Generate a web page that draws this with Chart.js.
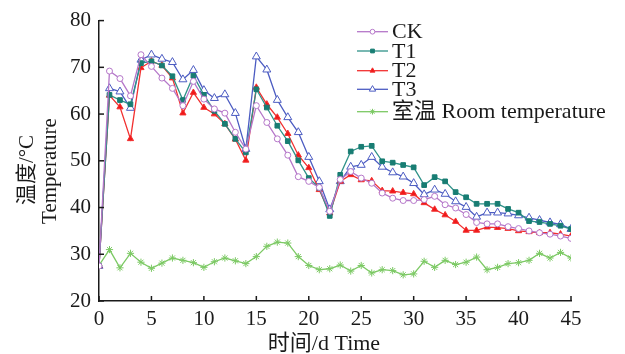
<!DOCTYPE html>
<html>
<head>
<meta charset="utf-8">
<script src="https://cdn.jsdelivr.net/npm/chart.js@4/dist/chart.umd.min.js"></script>
<style>
    html, body { margin: 0; padding: 0; background: #fff; }
    #wrap { width: 625px; height: 354px; }
</style>
</head>
<body>
<div id="wrap"><canvas id="tempChart" width="625" height="354"></canvas></div>
<script>
const days = [0, 1, 2, 3, 4, 5, 6, 7, 8, 9, 10, 11, 12, 13, 14, 15, 16, 17, 18, 19, 20, 21, 22,
    23, 24, 25, 26, 27, 28, 29, 30, 31, 32, 33, 34, 35, 36, 37, 38, 39, 40, 41, 42, 43, 44, 45];

const ck = [27.5, 69.2, 67.6, 63.9, 72.7, 70.2, 67.7, 65.5, 61.8, 67.0, 63.2, 61.1, 60.2, 56.1, 52.5, 61.8,
    58.2, 54.7, 51.2, 46.6, 45.6, 44.3, 39.2, 46.0, 47.7, 46.3, 45.2, 43.1, 42.0, 41.5, 41.5, 41.7,
    42.4, 40.6, 39.9, 38.5, 36.8, 36.5, 36.5, 35.9, 35.5, 35.0, 34.6, 34.3, 33.9, 33.4];
const t1 = [27.5, 64.1, 63.0, 62.1, 70.9, 71.3, 70.4, 68.1, 63.0, 68.2, 64.1, 60.7, 57.9, 54.7, 51.8, 65.3,
    61.4, 57.5, 54.2, 50.1, 46.3, 44.2, 38.2, 47.0, 52.0, 53.0, 53.2, 49.9, 49.6, 49.1, 48.6, 44.8,
    46.5, 45.6, 43.3, 42.2, 40.8, 40.8, 40.8, 39.7, 38.9, 37.1, 36.9, 36.5, 36.1, 35.4];
const t2 = [27.5, 64.0, 61.5, 54.7, 69.9, 71.3, 70.4, 67.7, 60.2, 64.6, 61.4, 60.0, 57.9, 54.6, 50.1, 65.7,
    62.1, 59.3, 55.8, 51.2, 48.5, 43.8, 38.8, 45.6, 47.0, 45.9, 45.7, 43.6, 43.5, 43.2, 42.9, 41.0,
    39.6, 38.4, 37.0, 35.1, 35.1, 35.8, 35.7, 35.5, 35.0, 34.8, 34.6, 34.6, 34.3, 33.9];
const t3 = [27.5, 65.5, 64.8, 61.3, 71.6, 72.7, 71.8, 71.1, 67.4, 69.4, 65.1, 63.4, 64.2, 60.2, 52.5, 72.3,
    69.5, 63.0, 59.3, 56.1, 50.8, 45.6, 39.6, 45.6, 48.7, 49.1, 50.8, 48.7, 47.5, 46.6, 45.2, 42.8,
    43.8, 42.9, 41.3, 40.1, 38.0, 38.9, 38.9, 38.7, 38.3, 37.8, 37.3, 36.8, 36.4, 35.4];
const room = [27.6, 31.0, 27.1, 30.2, 28.3, 27.0, 28.1, 29.2, 28.7, 28.2, 27.2, 28.4, 29.2, 28.6, 28.0, 29.5,
    31.7, 32.6, 32.4, 29.5, 27.6, 26.7, 26.9, 27.7, 26.4, 27.6, 26.0, 26.7, 26.5, 25.6, 25.8, 28.5,
    27.2, 28.7, 27.8, 28.3, 29.4, 26.7, 27.2, 28.0, 28.2, 28.7, 30.2, 29.2, 30.4, 29.2];

const seriesNames = ['CK', 'T1', 'T2', 'T3', '室温 Room temperature'];
const xTicks = [0, 5, 10, 15, 20, 25, 30, 35, 40, 45];
const yTicks = [20, 30, 40, 50, 60, 70, 80];
const xTitle = '时间/d Time';
const yTitle = ['温度/°C', 'Temperature'];

const FONT = '"Liberation Serif", "Noto Sans CJK SC", serif';
const INK = '#1a1a1a';

const toPoints = vals => days.map((d, i) => ({ x: d, y: vals[i] }));

const styles = [
    { line: '#b577c9', fill: '#ffffff', point: 'circle', r: 3, bw: 1 },
    { line: '#2f9289', fill: '#187d73', point: 'rect', r: 3.3, bw: 1 },
    { line: '#f23030', fill: '#f01818', point: 'triangle', r: 3.6, bw: 1 },
    { line: '#4c5cc2', fill: '#ffffff', point: 'triangle', r: 4.6, bw: 1 },
    { line: '#7cc964', fill: '#7cc964', point: 'star', r: 3.6, bw: 1 },
];
const values = [ck, t1, t2, t3, room];

const datasets = values.map((vals, i) => ({
    label: seriesNames[i],
    data: toPoints(vals),
    borderColor: styles[i].line,
    borderWidth: 1.3,
    pointStyle: styles[i].point,
    pointRadius: styles[i].r,
    pointBorderColor: i === 1 ? styles[i].fill : styles[i].line,
    pointBackgroundColor: styles[i].fill,
    pointBorderWidth: styles[i].bw,
    tension: 0,
}));

// inward ticks, titles and the in-plot legend
const decor = {
    id: 'decor',
    afterDraw(chart) {
        const { ctx, chartArea: a, scales: { x, y } } = chart;
        ctx.save();
        ctx.strokeStyle = INK;
        ctx.lineWidth = 1.5;
        xTicks.forEach(v => {
            const px = x.getPixelForValue(v);
            ctx.beginPath(); ctx.moveTo(px, a.bottom); ctx.lineTo(px, a.bottom - 5); ctx.stroke();
        });
        yTicks.forEach(v => {
            const py = y.getPixelForValue(v);
            ctx.beginPath(); ctx.moveTo(a.left, py); ctx.lineTo(a.left + 5, py); ctx.stroke();
        });

        ctx.fillStyle = INK;
        ctx.font = '22px ' + FONT;
        ctx.textAlign = 'center';
        ctx.textBaseline = 'middle';
        ctx.fillText(xTitle, 324, 344);

        ctx.font = '21px ' + FONT;
        ctx.save();
        ctx.translate(27, 170);
        ctx.rotate(-Math.PI / 2);
        ctx.fillText(yTitle[0], 0, 0);
        ctx.restore();
        ctx.save();
        ctx.translate(50, 171);
        ctx.rotate(-Math.PI / 2);
        ctx.fillText(yTitle[1], 0, 0);
        ctx.restore();

        const rows = [31.7, 51, 70.7, 89.3, 111.7];
        ctx.font = '22px ' + FONT;
        ctx.textAlign = 'left';
        seriesNames.forEach((name, i) => {
            const st = styles[i];
            const ly = rows[i];
            ctx.strokeStyle = st.line;
            ctx.lineWidth = 1.3;
            ctx.beginPath(); ctx.moveTo(357, ly); ctx.lineTo(388, ly); ctx.stroke();
            ctx.fillStyle = st.fill;
            ctx.strokeStyle = i === 1 ? st.fill : st.line;
            ctx.lineWidth = st.bw;
            Chart.helpers.drawPoint(ctx, { pointStyle: st.point, radius: st.r * 0.8, borderWidth: st.bw }, 372.5, ly);
            ctx.fillStyle = INK;
            ctx.fillText(name, 392, ly + 1);
        });
        ctx.restore();
    }
};

new Chart(document.getElementById('tempChart'), {
    type: 'line',
    data: { datasets },
    options: {
        responsive: false,
        animation: false,
        layout: { padding: { left: 0, right: 54, top: 17, bottom: 0 } },
        plugins: { legend: { display: false }, tooltip: { enabled: false } },
        scales: {
            x: {
                type: 'linear',
                min: 0, max: 45,
                afterFit: s => { s.height = 53; },
                afterBuildTicks: s => { s.ticks = xTicks.map(v => ({ value: v })); },
                grid: { drawOnChartArea: false, drawTicks: false },
                border: { color: INK, width: 1.5 },
                ticks: { color: INK, padding: 6, font: { family: FONT, size: 21 } },
            },
            y: {
                min: 20, max: 80,
                afterFit: s => { s.width = 99; },
                afterBuildTicks: s => { s.ticks = yTicks.map(v => ({ value: v })); },
                grid: { drawOnChartArea: false, drawTicks: false },
                border: { color: INK, width: 1.5 },
                ticks: { color: INK, padding: 8, font: { family: FONT, size: 21 } },
            }
        }
    },
    plugins: [decor]
});
</script>
</body>
</html>
